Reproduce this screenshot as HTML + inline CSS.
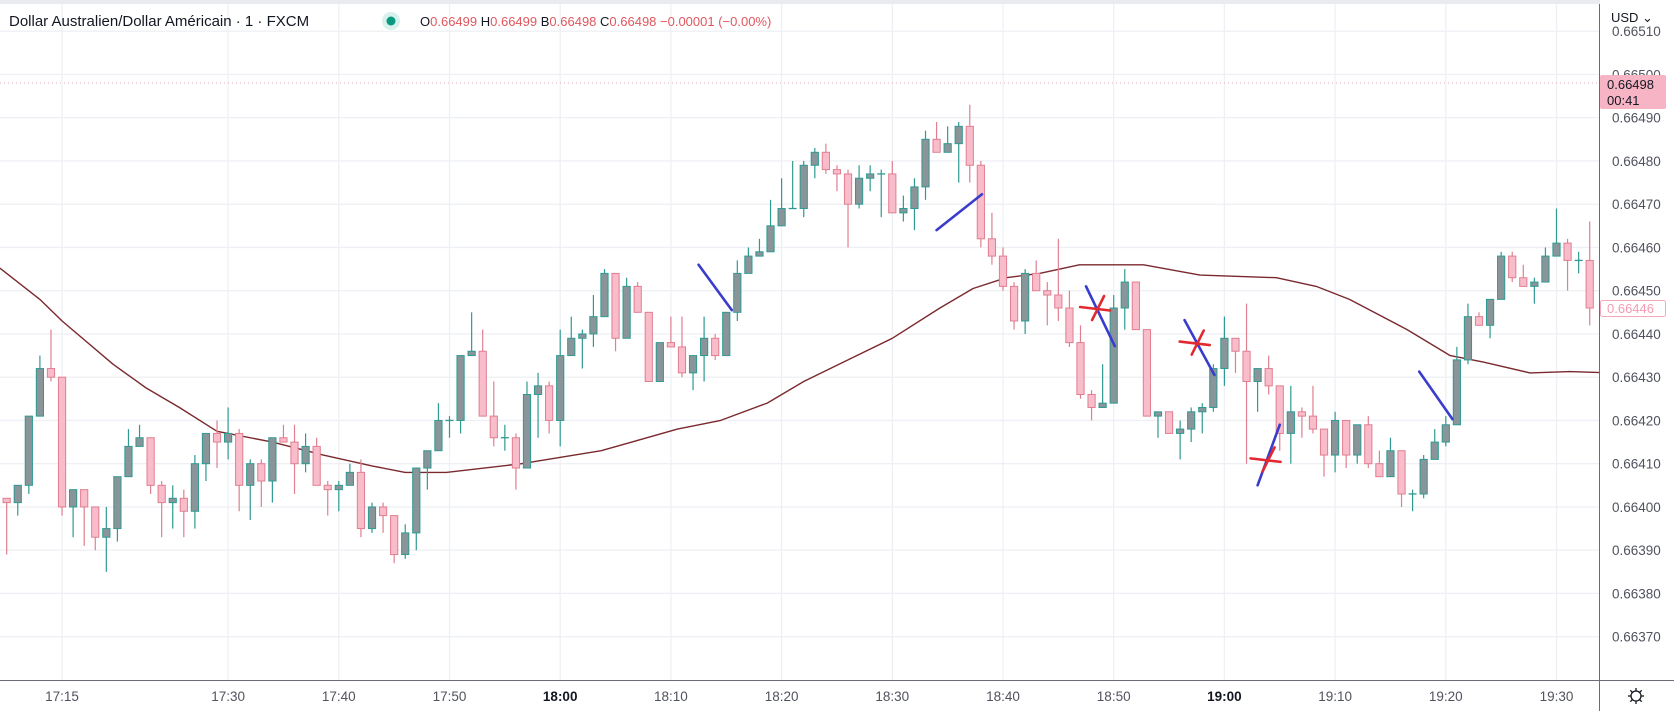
<!DOCTYPE html>
<html><head><meta charset="utf-8">
<style>
html,body{margin:0;padding:0;background:#fff;}
svg{display:block;font-family:"Liberation Sans",sans-serif;}
</style></head>
<body>
<svg id="chart" width="1674" height="711" viewBox="0 0 1674 711" xmlns="http://www.w3.org/2000/svg">
  <rect x="0" y="0" width="1674" height="711" fill="#ffffff"/>
  <rect x="0" y="0" width="1674" height="4" fill="#e9ebf0"/>
  <g id="grid"></g>
  <g id="ma"></g>
  <g id="candles"></g>
  <g id="drawings"></g>
  <line x1="0" y1="83" x2="1599" y2="83" stroke="#eeaab8" stroke-width="1" stroke-dasharray="1,3"/>
  <rect x="1600" y="0" width="74" height="680" fill="#ffffff"/>
  <rect x="0" y="681" width="1674" height="30" fill="#ffffff"/>
  <g id="yaxis"></g>
  <g id="xaxis"></g>
  <line x1="1599.5" y1="4" x2="1599.5" y2="711" stroke="#6a6d78" stroke-width="1"/>
  <line x1="0" y1="680.5" x2="1674" y2="680.5" stroke="#6a6d78" stroke-width="1"/>
  <text x="1611" y="22" font-size="13" fill="#131722">USD ⌄</text>
  <g>
    <rect x="1600" y="75" width="66" height="34" rx="2" fill="#f7b4c5"/>
    <text x="1607" y="89" font-size="13" fill="#131722">0.66498</text>
    <text x="1607" y="105" font-size="13" fill="#131722">00:41</text>
  </g>
  <g>
    <rect x="1600.5" y="300.5" width="65" height="16" rx="2" fill="#ffffff" stroke="#f4a9bb"/>
    <text x="1607" y="313" font-size="13" fill="#f59ab3">0.66446</text>
  </g>
  <g transform="translate(1636,696)">
    <circle r="5" fill="none" stroke="#131722" stroke-width="1.3"/>
    <g stroke="#131722" stroke-width="1.3">
      <line x1="0" y1="-8" x2="0" y2="-5"/><line x1="0" y1="5" x2="0" y2="8"/>
      <line x1="-8" y1="0" x2="-5" y2="0"/><line x1="5" y1="0" x2="8" y2="0"/>
      <line x1="-5.7" y1="-5.7" x2="-3.5" y2="-3.5"/><line x1="3.5" y1="3.5" x2="5.7" y2="5.7"/>
      <line x1="-5.7" y1="5.7" x2="-3.5" y2="3.5"/><line x1="3.5" y1="-3.5" x2="5.7" y2="-5.7"/>
    </g>
  </g>
  <g>
    <text x="9" y="26" font-size="15" fill="#131722">Dollar Australien/Dollar Américain · 1 · FXCM</text>
    <circle cx="391" cy="21" r="9" fill="#d8f1ec"/>
    <circle cx="391" cy="21" r="4.5" fill="#089981"/>
    <text x="420" y="26" font-size="13" fill="#e0575f"><tspan fill="#131722">O</tspan>0.66499 <tspan fill="#131722">H</tspan>0.66499 <tspan fill="#131722">B</tspan>0.66498 <tspan fill="#131722">C</tspan>0.66498 −0.00001 (−0.00%)</text>
  </g>
</svg>
<script>
// Data (prices in units of 0.00001)
const opens  = [66402,66401,66405,66421,66432,66430,66400,66404,66400,66393,66395,66407,66414,66416,66405,66401,66402,66399,66410,66417,66415,66417,66405,66410,66406,66416,66415,66410,66414,66405,66404,66405,66408,66395,66400,66398,66389,66394,66409,66413,66420,66420,66435,66436,66421,66416,66416,66409,66426,66428,66420,66435,66439,66440,66444,66454,66439,66451,66445,66429,66438,66437,66431,66435,66439,66435,66445,66454,66458,66459,66465,66469,66469,66479,66482,66478,66477,66470,66476,66477,66477,66468,66469,66474,66485,66482,66484,66488,66479,66462,66458,66451,66443,66454,66450,66449,66446,66438,66426,66423,66424,66446,66452,66441,66421,66422,66417,66418,66422,66423,66432,66439,66436,66429,66432,66428,66417,66422,66421,66418,66412,66420,66412,66419,66410,66407,66413,66403,66403,66411,66415,66419,66434,66444,66442,66448,66458,66453,66451,66452,66458,66461,66457,66457];
const highs  = [66402,66405,66421,66435,66441,66430,66404,66404,66400,66400,66407,66418,66419,66416,66406,66405,66404,66412,66417,66420,66423,66418,66411,66411,66416,66419,66419,66417,66416,66406,66406,66410,66411,66401,66401,66398,66396,66409,66413,66424,66421,66435,66445,66441,66429,66419,66417,66429,66431,66429,66441,66444,66441,66449,66455,66454,66453,66452,66445,66438,66444,66444,66435,66444,66440,66445,66457,66460,66462,66471,66476,66480,66480,66483,66484,66479,66478,66479,66479,66478,66480,66472,66476,66487,66489,66488,66489,66493,66480,66468,66460,66452,66455,66457,66452,66462,66450,66442,66427,66433,66449,66455,66452,66441,66422,66422,66420,66423,66424,66433,66444,66439,66447,66432,66435,66428,66428,66423,66428,66418,66422,66420,66419,66421,66413,66416,66413,66404,66412,66418,66421,66437,66447,66445,66448,66459,66459,66456,66453,66460,66469,66462,66459,66466];
const lows   = [66389,66398,66403,66421,66429,66398,66393,66391,66390,66385,66392,66407,66414,66403,66393,66395,66393,66395,66406,66409,66411,66399,66397,66400,66401,66415,66403,66408,66405,66398,66399,66405,66393,66394,66394,66387,66388,66390,66404,66413,66416,66417,66435,66421,66414,66413,66404,66409,66416,66417,66414,66435,66432,66437,66444,66436,66439,66445,66429,66429,66437,66430,66427,66429,66434,66435,66443,66454,66458,66459,66465,66469,66467,66476,66477,66473,66460,66469,66473,66467,66468,66466,66464,66471,66482,66482,66475,66475,66460,66456,66450,66441,66440,66450,66442,66443,66437,66425,66420,66423,66424,66441,66441,66421,66416,66417,66411,66415,66417,66422,66428,66431,66410,66422,66426,66413,66410,66416,66417,66407,66408,66409,66410,66409,66407,66407,66400,66399,66402,66411,66414,66419,66433,66442,66439,66448,66452,66451,66447,66452,66458,66450,66454,66442];
const closes = [66401,66405,66421,66432,66430,66400,66404,66400,66393,66395,66407,66414,66416,66405,66401,66402,66399,66410,66417,66415,66417,66405,66410,66406,66416,66415,66410,66414,66405,66404,66405,66408,66395,66400,66398,66389,66394,66409,66413,66420,66420,66435,66436,66421,66416,66416,66409,66426,66428,66420,66435,66439,66440,66444,66454,66439,66451,66445,66429,66438,66437,66431,66435,66439,66435,66445,66454,66458,66459,66465,66469,66469,66479,66482,66478,66477,66470,66476,66477,66477,66468,66469,66474,66485,66482,66484,66488,66479,66462,66458,66451,66443,66454,66450,66449,66446,66438,66426,66423,66424,66446,66452,66441,66421,66422,66417,66418,66422,66423,66432,66439,66436,66429,66432,66428,66417,66422,66421,66418,66412,66420,66412,66419,66410,66407,66413,66403,66403,66411,66415,66419,66434,66444,66442,66448,66458,66453,66451,66452,66458,66461,66457,66457,66446];
// Moving average knots (candle index, value)
const maIdx = [-1,0,3,5,9.6,12.6,15.6,19,24,28.6,33,36,39.7,46.5,53.7,60.6,64.5,68.7,72,76,80,84.3,87.3,90.3,93.3,96.9,102.7,107.8,114.7,118.3,121.3,126.5,130.4,133.4,137.6,141.2,145];
const maVal = [66456,66454,66448,66443,66433,66427.5,66423,66417.5,66415,66412,66409.5,66408,66408,66410,66413,66418,66420,66424,66429,66434,66439,66446,66450.5,66453,66454,66456,66456,66453.6,66453,66451,66448,66441,66435,66433.5,66431,66431.3,66431];
// Price ticks and time ticks
const priceTicks = [66510,66500,66490,66480,66470,66460,66450,66440,66430,66420,66410,66400,66390,66380,66370];
const timeTickIdx = [5,20,30,40,50,60,70,80,90,100,110,120,130,140];
const timeTickLabels = ["17:15","17:30","17:40","17:50","18:00","18:10","18:20","18:30","18:40","18:50","19:00","19:10","19:20","19:30"];
// Drawings in data coordinates [i1,p1,i2,p2]
const blueLines = [[62.5,66456,65.5,66445.5],[84,66464,88.1,66472.3],[97.5,66451,100.1,66437.2],[106.4,66443.2,109.1,66430.5],[115,66419,113,66405],[127.6,66431.3,130.6,66420.3]];
const redCrossIdx = [98.5,107.5,113.9];
const redCrossVal = [66446,66438,66411];

const NS="http://www.w3.org/2000/svg";
function xOf(i){return 6.7+i*11.07;}
function yOf(p){return 117.7+(66490-p)*4.325;}
function mk(tag,attrs,parent){const e=document.createElementNS(NS,tag);for(const k in attrs)e.setAttribute(k,attrs[k]);parent.appendChild(e);return e;}

const grid=document.getElementById('grid');
priceTicks.forEach(p=>{
  const l=mk('line',{x1:0,x2:1599,y1:yOf(p),y2:yOf(p),stroke:'#eef0f5','stroke-width':1.3},grid);
  
  
});
timeTickIdx.forEach(i=>{
  const l=mk('line',{x1:xOf(i),x2:xOf(i),y1:4,y2:680,stroke:'#eef0f5','stroke-width':1.3},grid);
  
  
});

const ya=document.getElementById('yaxis');
priceTicks.forEach(p=>{
  const t=mk('text',{x:1612,y:yOf(p)+5,'font-size':13.5,fill:'#50535e'},ya);
  t.textContent=(p/100000).toFixed(5);
  
  
});
const xa=document.getElementById('xaxis');
timeTickIdx.forEach((i,k)=>{
  const lab=timeTickLabels[k];
  const bold=(lab==="18:00"||lab==="19:00");
  const t=mk('text',{x:xOf(i),y:701,'font-size':13.5,fill:bold?'#131722':'#50535e','text-anchor':'middle','font-weight':bold?'bold':'normal'},xa);
  t.textContent=lab;
  
  
});

const ma=document.getElementById('ma');
let d='';
maIdx.forEach((i,k)=>{d+=(k?'L':'M')+xOf(i).toFixed(1)+','+yOf(maVal[k]).toFixed(1);});
const maPath=mk('path',{d:d,fill:'none',stroke:'#7a2a2e','stroke-width':1.4,'stroke-linejoin':'round'},ma);



const cg=document.getElementById('candles');
for(let i=0;i<opens.length;i++){
  const o=opens[i],h=highs[i],l=lows[i],c=closes[i];
  const up=c>=o;
  const border=up?'#2f9a92':'#e07f90';
  const fill=up?'#8a9599':'#f8bccb';
  const x=xOf(i);
  const g=mk('g',{},cg);
  
  
  mk('line',{x1:x,x2:x,y1:yOf(h),y2:yOf(l),stroke:border,'stroke-width':1.2},g);
  const top=yOf(Math.max(o,c)),bot=yOf(Math.min(o,c));
  if(bot-top<1.5){
    mk('line',{x1:x-4,x2:x+4,y1:top,y2:top,stroke:border,'stroke-width':1.3},g);
  } else {
    mk('rect',{x:x-3.6,y:top,width:7.2,height:bot-top,fill:fill,stroke:border,'stroke-width':1},g);
  }
}

const dg=document.getElementById('drawings');
blueLines.forEach(b=>{
  const l=mk('line',{x1:xOf(b[0]),y1:yOf(b[1]),x2:xOf(b[2]),y2:yOf(b[3]),stroke:'#3a3ccc','stroke-width':2.6,'stroke-linecap':'round'},dg);
  
  
});
redCrossIdx.forEach((i,k)=>{
  const cx=xOf(i),cy=yOf(redCrossVal[k]);
  const g=mk('g',{stroke:'#e02a30','stroke-width':2.6,'stroke-linecap':'round'},dg);
  
  
  mk('line',{x1:cx-17,y1:cy-1,x2:cx+13,y2:cy+2.5},g);
  mk('line',{x1:cx-5,y1:cy+12,x2:cx+7,y2:cy-12},g);
});
</script>
</body></html>
